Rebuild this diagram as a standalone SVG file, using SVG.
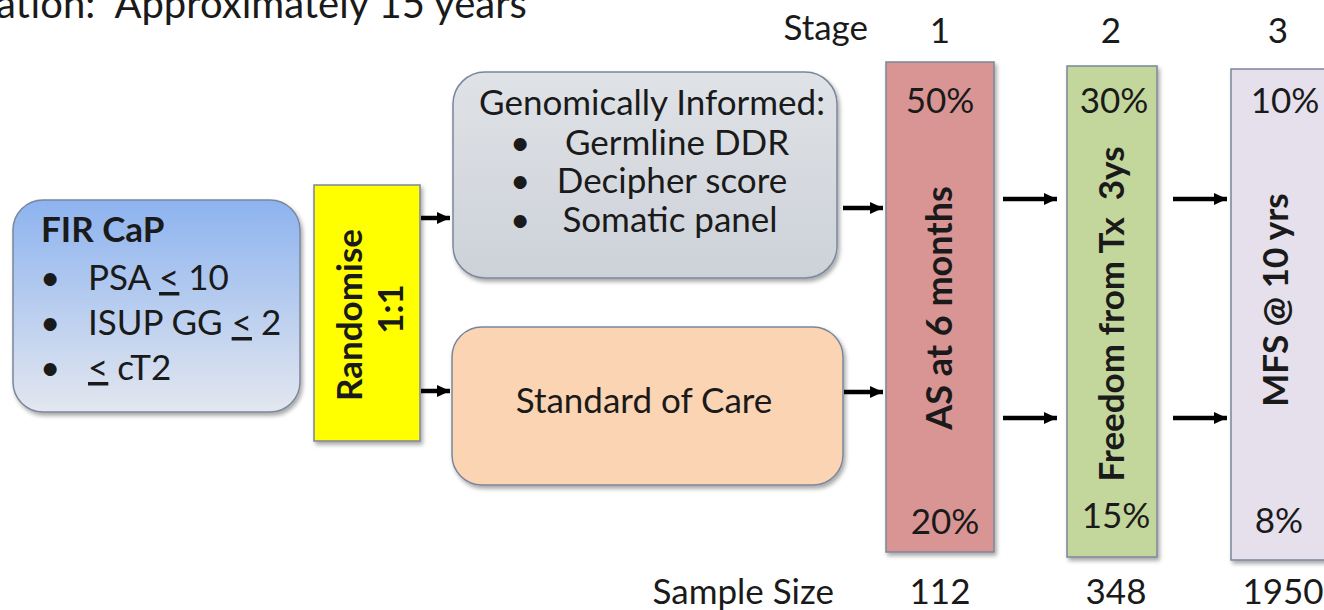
<svg xmlns="http://www.w3.org/2000/svg" width="1324" height="610" viewBox="0 0 1324 610">
<style>
  text { font-family: Lato, "Liberation Sans", sans-serif; fill: #1a1a1a; font-size: 35px; }
  .b { font-weight: bold; }
  .box { stroke: #7a869c; stroke-width: 1.5; }
  .conn { stroke: #000; stroke-width: 4.5; fill: none; marker-end: url(#ah); }
  .c { text-anchor: middle; }
</style>
<defs>
  <linearGradient id="gBlue" x1="0" y1="0" x2="0" y2="1">
    <stop offset="0" stop-color="#8db3ef"/>
    <stop offset="1" stop-color="#e3e7ef"/>
  </linearGradient>
  <linearGradient id="gGray" x1="0" y1="0" x2="0" y2="1">
    <stop offset="0" stop-color="#dfe2e6"/>
    <stop offset="1" stop-color="#cdd2d9"/>
  </linearGradient>
  <filter id="sh" x="-10%" y="-10%" width="130%" height="130%">
    <feDropShadow dx="2" dy="3" stdDeviation="2" flood-color="#000" flood-opacity="0.35"/>
  </filter>
  <marker id="ah" markerUnits="userSpaceOnUse" markerWidth="14" markerHeight="14" refX="13" refY="7" orient="auto">
    <path d="M0,1 L13,7 L0,13 z" fill="#000"/>
  </marker>
</defs>
<rect width="1324" height="610" fill="#fff"/>

<g id="title">
  <text x="-4" y="18" style="font-size:40px" xml:space="preserve">ation:  Approximately 15 years</text>
</g>

<g id="header">
  <text x="868" y="40" style="text-anchor:end">Stage</text>
  <text x="940" y="43" class="c">1</text>
  <text x="1111" y="43" class="c">2</text>
  <text x="1278" y="43" class="c">3</text>
</g>

<g id="fir">
  <rect class="box" x="13" y="200" width="287" height="212" rx="30" fill="url(#gBlue)" filter="url(#sh)"/>
  <text x="41" y="242" class="b">FIR CaP</text>
  <text x="40" y="290">•</text>
  <text x="88" y="290">PSA <tspan style="text-decoration:underline">&lt;</tspan> 10</text>
  <text x="40" y="335">•</text>
  <text x="88" y="335">ISUP GG <tspan style="text-decoration:underline">&lt;</tspan> 2</text>
  <text x="40" y="380">•</text>
  <text x="88" y="380"><tspan style="text-decoration:underline">&lt;</tspan> cT2</text>
</g>

<g id="randomise">
  <rect class="box" x="314" y="185" width="106" height="256" fill="#ffff00" filter="url(#sh)"/>
  <text class="b c" transform="translate(362,315) rotate(-90)">Randomise</text>
  <text class="b c" transform="translate(403,309) rotate(-90)">1:1</text>
</g>

<g id="genomic">
  <rect class="box" x="453" y="72" width="384" height="206" rx="32" fill="url(#gGray)" filter="url(#sh)"/>
  <text x="652" y="115" class="c">Genomically Informed:</text>
  <text x="510" y="155">•</text>
  <text x="677" y="155" class="c">Germline DDR</text>
  <text x="510" y="193">•</text>
  <text x="672" y="193" class="c">Decipher score</text>
  <text x="510" y="232">•</text>
  <text x="670" y="232" class="c">Somatic panel</text>
</g>

<g id="soc">
  <rect class="box" x="452" y="327" width="391" height="158" rx="30" fill="#fbd4b4" filter="url(#sh)"/>
  <text x="644" y="413" class="c">Standard of Care</text>
</g>

<g id="stage1">
  <rect class="box" x="886" y="62" width="108" height="490" fill="#d99594" filter="url(#sh)"/>
  <text x="940" y="113" class="c">50%</text>
  <text class="b c" transform="translate(952,308) rotate(-90)" style="font-size:36px">AS at 6 months</text>
  <text x="945" y="534" class="c">20%</text>
</g>

<g id="stage2">
  <rect class="box" x="1067" y="66" width="90" height="491" fill="#c3d69b" filter="url(#sh)"/>
  <text x="1114" y="113" class="c">30%</text>
  <text class="b c" transform="translate(1124,314) rotate(-90)" xml:space="preserve">Freedom from Tx  3ys</text>
  <text x="1116" y="528" class="c">15%</text>
</g>

<g id="stage3">
  <rect class="box" x="1231" y="69" width="100" height="491" fill="#e5e0ec" filter="url(#sh)"/>
  <text x="1285" y="113" class="c">10%</text>
  <text class="b c" transform="translate(1288,300) rotate(-90)">MFS @ 10 yrs</text>
  <text x="1279" y="533" class="c">8%</text>
</g>

<g id="sample">
  <text x="834" y="604" style="text-anchor:end">Sample Size</text>
  <text x="940" y="604" class="c">112</text>
  <text x="1116" y="604" class="c">348</text>
  <text x="1283" y="604" class="c">1950</text>
</g>

<g id="connectors">
  <line class="conn" x1="421" y1="218" x2="450" y2="218"/>
  <line class="conn" x1="421" y1="391" x2="450" y2="391"/>
  <line class="conn" x1="843" y1="208" x2="883" y2="208"/>
  <line class="conn" x1="844" y1="392" x2="883" y2="392"/>
  <line class="conn" x1="1003" y1="199" x2="1057" y2="199"/>
  <line class="conn" x1="1003" y1="418" x2="1057" y2="418"/>
  <line class="conn" x1="1173" y1="199" x2="1227" y2="199"/>
  <line class="conn" x1="1173" y1="418" x2="1227" y2="418"/>
</g>
</svg>
